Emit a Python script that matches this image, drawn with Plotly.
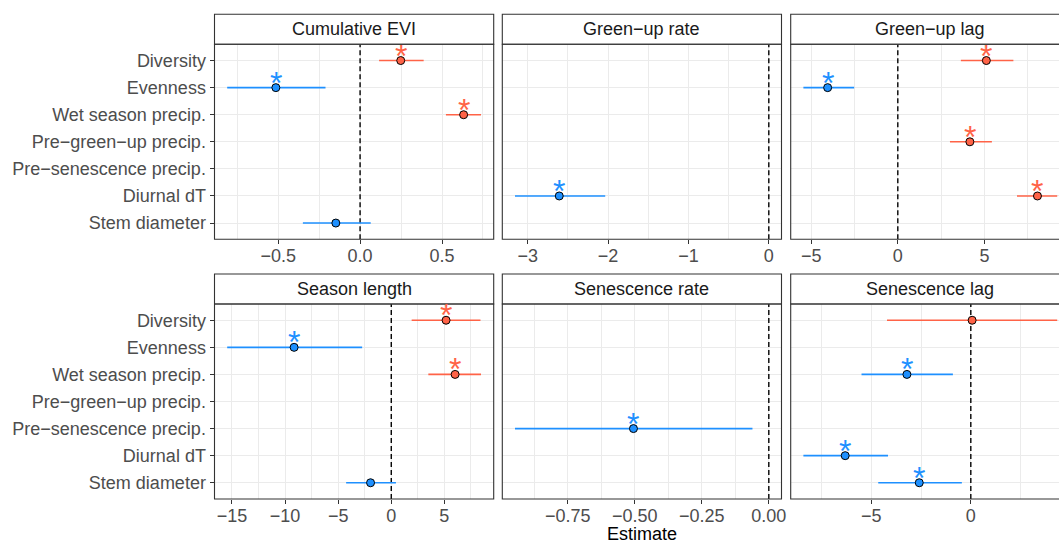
import plotly.graph_objects as go

# ---------------- data ----------------
categories = ["Diversity", "Evenness", "Wet season precip.", "Pre−green−up precip.",
              "Pre−senescence precip.", "Diurnal dT", "Stem diameter"]

panel_titles = ["Cumulative EVI", "Green−up rate", "Green−up lag",
                "Season length", "Senescence rate", "Senescence lag"]

cum_evi_est = [0.248, -0.514, 0.632, None, None, None, -0.148]
cum_evi_lo = [0.116, -0.811, 0.524, None, None, None, -0.349]
cum_evi_hi = [0.388, -0.211, 0.738, None, None, None, 0.065]

gu_rate_est = [None, None, None, None, None, -2.608, None]
gu_rate_lo = [None, None, None, None, None, -3.159, None]
gu_rate_hi = [None, None, None, None, None, -2.036, None]

gu_lag_est = [5.11, -4.05, None, 4.16, None, 8.06, None]
gu_lag_lo = [3.64, -5.45, None, 3.01, None, 6.88, None]
gu_lag_hi = [6.67, -2.52, None, 5.43, None, 9.20, None]

season_len_est = [5.16, -9.15, 6.01, None, None, None, -1.95]
season_len_lo = [1.92, -15.45, 3.49, None, None, None, -4.25]
season_len_hi = [8.40, -2.74, 8.45, None, None, None, 0.44]

sen_rate_est = [None, None, None, None, -0.505, None, None]
sen_rate_lo = [None, None, None, None, -0.947, None, None]
sen_rate_hi = [None, None, None, None, -0.061, None, None]

sen_lag_est = [0.065, None, -3.21, None, None, -6.31, -2.59]
sen_lag_lo = [-4.21, None, -5.49, None, None, -8.41, -4.65]
sen_lag_hi = [4.34, None, -0.90, None, None, -4.16, -0.45]

zero_line = 0

tick_vals = [[-0.5, 0.0, 0.5], [-3, -2, -1, 0], [-5, 0, 5],
             [-15, -10, -5, 0, 5], [-0.75, -0.50, -0.25, 0.00], [-10, -5, 0]]
tick_text = [["−0.5", "0.0", "0.5"], ["−3", "−2", "−1", "0"], ["−5", "0", "5"],
             ["−15", "−10", "−5", "0", "5"], ["−0.75", "−0.50", "−0.25", "0.00"], ["−10", "−5", "0"]]
minor_step = [0.25, 0.5, 2.5, 2.5, 0.125, 2.5]

estimates = [cum_evi_est, gu_rate_est, gu_lag_est, season_len_est, sen_rate_est, sen_lag_est]
lowers = [cum_evi_lo, gu_rate_lo, gu_lag_lo, season_len_lo, sen_rate_lo, sen_lag_lo]
uppers = [cum_evi_hi, gu_rate_hi, gu_lag_hi, season_len_hi, sen_rate_hi, sen_lag_hi]

# ---------------- style / layout ----------------
W, H = 1059, 543
FONT = "Liberation Sans, Arial, Helvetica, sans-serif"
FS = 18
RED = "#FF6347"
BLUE = "#1E90FF"
GRID = "#EBEBEB"
BORDER = "#333333"
col_px = [(214.5, 493.7), (502.3, 781.5), (790.7, 1069.9)]
row_px = [(44.3, 239.3), (304.0, 499.0)]
STRIP_H = 30.0
y_range = [len(categories) - 1 + 0.6, -0.6]

fig = go.Figure()
shapes = []
annotations = []
layout_axes = {}


def box_path(x0, x1, y0, y1, open_right):
    X0, X1 = x0 / W, min(x1, W) / W
    Y0, Y1 = 1 - y0 / H, 1 - y1 / H
    if open_right:
        return f"M {X1},{Y0} L {X0},{Y0} L {X0},{Y1} L {X1},{Y1}"
    return f"M {X0},{Y0} L {X1},{Y0} L {X1},{Y1} L {X0},{Y1} Z"


for i in range(6):
    r, c = divmod(i, 3)
    sfx = "" if i == 0 else str(i + 1)
    xr, yr = "x" + sfx, "y" + sfx
    est, lo, hi = estimates[i], lowers[i], uppers[i]
    x0p, x1p = col_px[c]
    y0p, y1p = row_px[r]
    cut = x1p > W

    # ggplot-like range: data + the zero line, 5% expansion
    a = min([v for v in lo if v is not None] + [zero_line])
    b = max([v for v in hi if v is not None] + [zero_line])
    pad = 0.05 * (b - a)
    a, b = a - pad, b + pad
    vis_end = min(x1p, W)
    b_vis = a + (b - a) * (vis_end - x0p) / (x1p - x0p)

    # dashed zero line
    fig.add_trace(go.Scatter(x=[zero_line, zero_line], y=y_range, mode="lines",
                             xaxis=xr, yaxis=yr, hoverinfo="skip", showlegend=False,
                             line=dict(color="black", width=1.4, dash="5px,3px")))
    # confidence intervals
    for sign, col in ((-1, BLUE), (1, RED)):
        xs, ys = [], []
        for k, e in enumerate(est):
            if e is None:
                continue
            if (e > 0) == (sign > 0):
                xs += [lo[k], hi[k], None]
                ys += [k, k, None]
        if xs:
            fig.add_trace(go.Scatter(x=xs, y=ys, mode="lines", xaxis=xr, yaxis=yr,
                                     line=dict(color=col, width=1.6), hoverinfo="skip",
                                     showlegend=False))
    # estimates + significance stars
    px_, py_, pc = [], [], []
    for k, e in enumerate(est):
        if e is None:
            continue
        px_.append(e)
        py_.append(k)
        pc.append(RED if e > 0 else BLUE)
        if lo[k] > 0 or hi[k] < 0:
            annotations.append(dict(x=e, y=k, xref=xr, yref=yr, text="*", showarrow=False,
                                    yshift=5, font=dict(family=FONT, size=32, color=pc[-1])))
    fig.add_trace(go.Scatter(x=px_, y=py_, mode="markers", xaxis=xr, yaxis=yr,
                             marker=dict(size=8, color=pc, line=dict(color="black", width=1)),
                             showlegend=False))

    layout_axes["xaxis" + sfx] = dict(
        domain=[x0p / W, vis_end / W], range=[a, b_vis], anchor=yr, automargin=False,
        tickmode="array", tickvals=tick_vals[i], ticktext=tick_text[i],
        ticks="outside", ticklen=4, tickwidth=1.1, tickcolor=BORDER,
        ticklabelstandoff=-4,
        tickfont=dict(family=FONT, size=FS, color="#4D4D4D"),
        showgrid=True, gridcolor=GRID, gridwidth=1.2, zeroline=False, showline=False,
        minor=dict(tickmode="linear", tick0=0, dtick=minor_step[i], showgrid=True,
                   gridcolor=GRID, gridwidth=0.6, ticks=""),
    )
    layout_axes["yaxis" + sfx] = dict(
        domain=[1 - y1p / H, 1 - y0p / H], range=y_range, anchor=xr, automargin=False,
        tickmode="array", tickvals=list(range(len(categories))), ticktext=categories,
        ticks="outside" if c == 0 else "", ticklen=4, tickwidth=1.1, tickcolor=BORDER,
        showticklabels=(c == 0),
        tickfont=dict(family=FONT, size=FS, color="#4D4D4D"),
        showgrid=True, gridcolor=GRID, gridwidth=1.2, zeroline=False, showline=False,
    )

    # strip fill, panel border, strip border, strip title
    shapes.append(dict(type="rect", xref="paper", yref="paper",
                       x0=x0p / W, x1=vis_end / W, y0=1 - y0p / H, y1=1 - (y0p - STRIP_H) / H,
                       line=dict(width=0), fillcolor="white", layer="above"))
    shapes.append(dict(type="path", xref="paper", yref="paper",
                       path=box_path(x0p, x1p, y0p, y1p, cut),
                       line=dict(color=BORDER, width=1.1), layer="above"))
    shapes.append(dict(type="path", xref="paper", yref="paper",
                       path=box_path(x0p, x1p, y0p - STRIP_H, y0p, cut),
                       line=dict(color=BORDER, width=1.1), layer="above"))
    annotations.append(dict(x=(x0p + x1p) / 2 / W, y=1 - (y0p - STRIP_H / 2) / H,
                            xref="paper", yref="paper", text=panel_titles[i], showarrow=False,
                            xanchor="center", yanchor="middle",
                            font=dict(family=FONT, size=FS, color="#1A1A1A")))

annotations.append(dict(x=(col_px[0][0] + col_px[2][1]) / 2 / W, y=0, yshift=-3,
                        xref="paper", yref="paper", text="Estimate", showarrow=False,
                        xanchor="center", yanchor="bottom",
                        font=dict(family=FONT, size=FS, color="black")))

fig.update_layout(
    width=W, height=H, margin=dict(l=0, r=0, t=0, b=0, autoexpand=False),
    paper_bgcolor="white", plot_bgcolor="white",
    font=dict(family=FONT, size=FS, color="#4D4D4D"),
    shapes=shapes, annotations=annotations, showlegend=False,
    **layout_axes,
)

fig.write_html("out.html")
